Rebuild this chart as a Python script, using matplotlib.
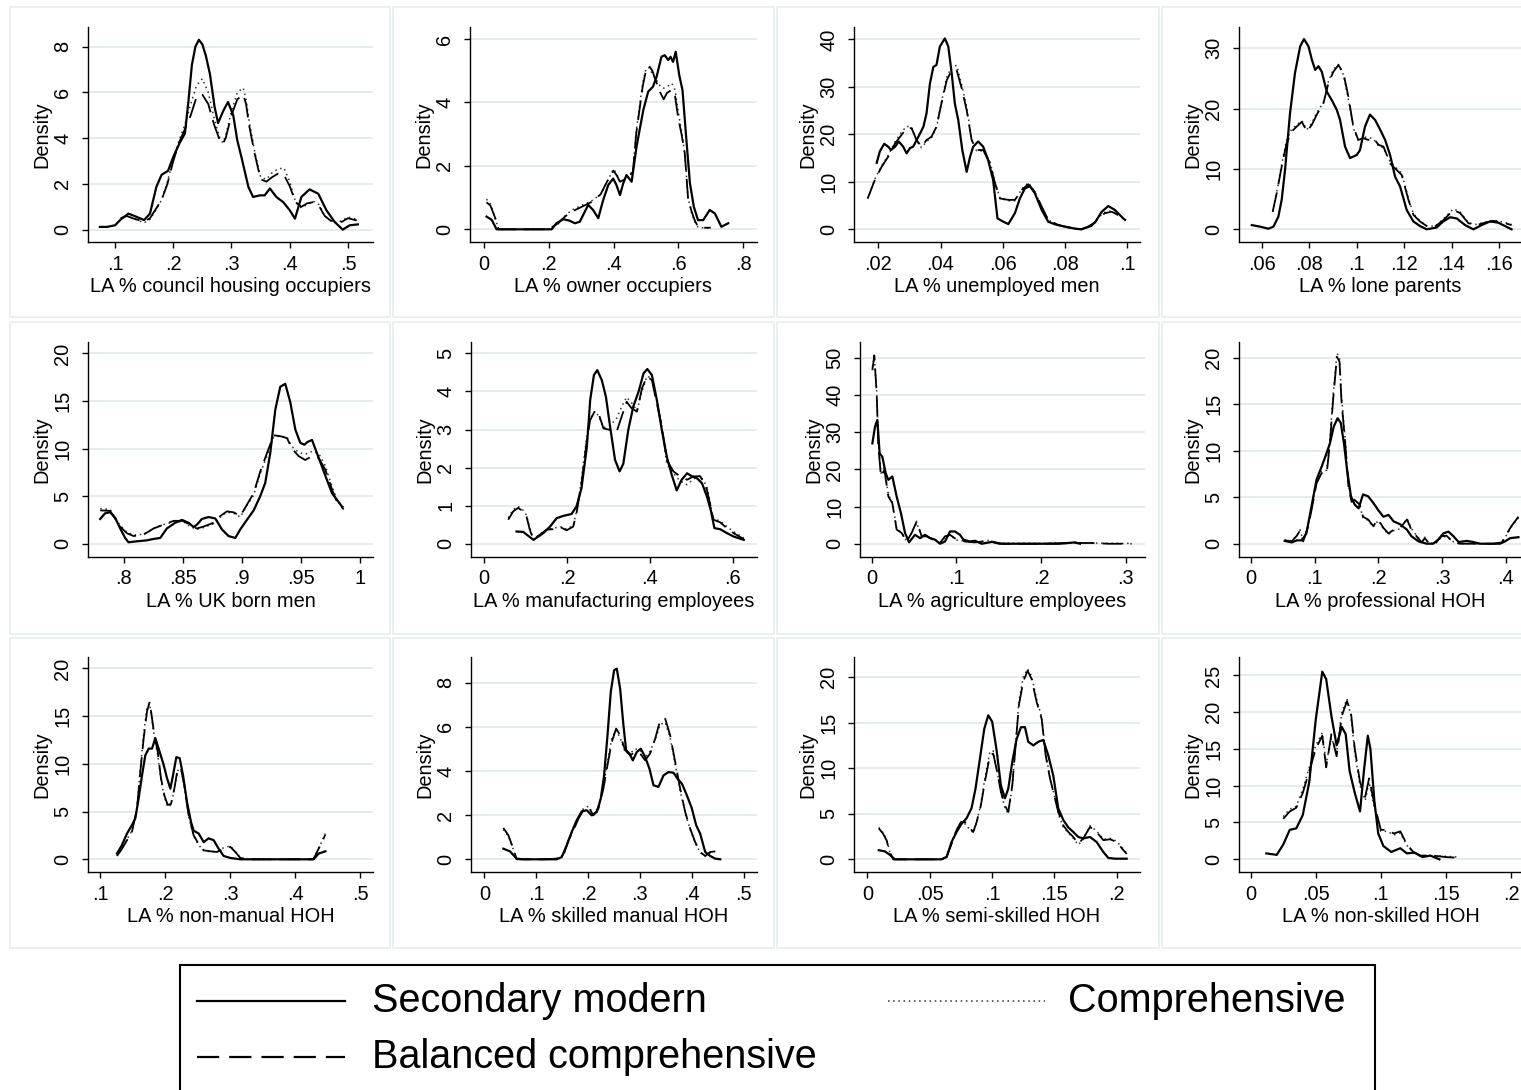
import matplotlib
matplotlib.use("Agg")
import matplotlib.pyplot as plt
from matplotlib.lines import Line2D
from matplotlib.patches import Rectangle

plt.rcParams['font.family'] = ['Liberation Sans', 'DejaVu Sans']

# ---------------- data ----------------
series_names = ["Secondary modern", "Balanced comprehensive", "Comprehensive"]

titles = ["LA % council housing occupiers", "LA % owner occupiers", "LA % unemployed men",
          "LA % lone parents", "LA % UK born men", "LA % manufacturing employees",
          "LA % agriculture employees", "LA % professional HOH", "LA % non-manual HOH",
          "LA % skilled manual HOH", "LA % semi-skilled HOH", "LA % non-skilled HOH"]

xticks = [[.1, .2, .3, .4, .5], [0, .2, .4, .6, .8], [.02, .04, .06, .08, .1],
          [.06, .08, .1, .12, .14, .16], [.8, .85, .9, .95, 1], [0, .2, .4, .6],
          [0, .1, .2, .3], [0, .1, .2, .3, .4], [.1, .2, .3, .4, .5],
          [0, .1, .2, .3, .4, .5], [0, .05, .1, .15, .2], [0, .05, .1, .15, .2]]
yticks = [[0, 2, 4, 6, 8], [0, 2, 4, 6], [0, 10, 20, 30, 40], [0, 10, 20, 30],
          [0, 5, 10, 15, 20], [0, 1, 2, 3, 4, 5], [0, 10, 20, 30, 40, 50],
          [0, 5, 10, 15, 20], [0, 5, 10, 15, 20], [0, 2, 4, 6, 8],
          [0, 5, 10, 15, 20], [0, 5, 10, 15, 20, 25]]

# Panel 1: council housing
p1_sec_x = [0.074, 0.086, 0.100, 0.110, 0.123, 0.135, 0.150, 0.160, 0.171, 0.180,
            0.191, 0.200, 0.211, 0.220, 0.226, 0.232, 0.238, 0.244, 0.250, 0.256,
            0.263, 0.271, 0.277, 0.286, 0.294, 0.303, 0.310, 0.317, 0.329, 0.337,
            0.349, 0.357, 0.366, 0.377, 0.389, 0.400, 0.409, 0.420, 0.434, 0.449,
            0.463, 0.477, 0.491, 0.503, 0.517]
p1_sec_y = [0.12, 0.12, 0.19, 0.45, 0.70, 0.58, 0.42, 0.70, 1.87, 2.40,
            2.57, 3.18, 3.79, 4.20, 5.60, 7.20, 8.00, 8.30, 8.10, 7.60,
            6.80, 5.36, 4.66, 5.20, 5.58, 5.00, 3.90, 3.18, 1.87, 1.43,
            1.50, 1.50, 1.80, 1.43, 1.20, 0.85, 0.48, 1.43, 1.76, 1.57,
            0.85, 0.34, 0.00, 0.19, 0.23]
p1_bal_x = [0.11, 0.12, 0.13, 0.15, 0.16, 0.17, 0.18, 0.19, 0.20, 0.21,
            0.22, 0.23, 0.24, 0.25, 0.26, 0.27, 0.28, 0.285, 0.29, 0.30,
            0.31, 0.32, 0.325, 0.33, 0.34, 0.35, 0.36, 0.37, 0.38, 0.39,
            0.40, 0.41, 0.42, 0.43, 0.44, 0.45, 0.46, 0.47, 0.48, 0.49,
            0.50, 0.515]
p1_bal_y = [0.5, 0.6, 0.5, 0.35, 0.5, 0.9, 1.3, 2.0, 3.0, 3.8,
            4.4, 5.0, 5.8, 5.9, 5.5, 4.6, 3.9, 3.75, 4.0, 5.0,
            5.7, 5.9, 5.5, 4.6, 3.3, 2.2, 2.1, 2.3, 2.45, 2.4,
            1.9, 1.2, 1.0, 1.15, 1.2, 1.05, 0.6, 0.4, 0.3, 0.35,
            0.5, 0.4]
p1_com_y = [0.5, 0.62, 0.5, 0.3, 0.45, 0.85, 1.3, 2.1, 3.1, 3.9,
            4.6, 5.5, 6.3, 6.6, 6.0, 4.9, 4.0, 3.8, 4.1, 5.2,
            6.0, 6.2, 5.7, 4.8, 3.4, 2.3, 2.2, 2.5, 2.65, 2.7,
            2.1, 1.2, 0.95, 1.1, 1.25, 1.1, 0.6, 0.4, 0.3, 0.4,
            0.55, 0.45]

# Panel 2: owner occupiers
p2_sec_x = [0.008, 0.024, 0.039, 0.100, 0.150, 0.209, 0.224, 0.245, 0.265, 0.281,
            0.296, 0.322, 0.337, 0.353, 0.368, 0.384, 0.399, 0.409, 0.420, 0.430,
            0.440, 0.456, 0.471, 0.492, 0.507, 0.522, 0.533, 0.548, 0.558, 0.569,
            0.576, 0.584, 0.592, 0.603, 0.613, 0.625, 0.636, 0.648, 0.661, 0.677,
            0.697, 0.713, 0.733, 0.754]
p2_sec_y = [0.40, 0.30, 0.00, 0.00, 0.00, 0.00, 0.19, 0.32, 0.27, 0.19,
            0.24, 0.77, 0.61, 0.35, 0.92, 1.40, 1.60, 1.40, 1.08, 1.45,
            1.71, 1.50, 2.60, 3.76, 4.34, 4.50, 4.81, 5.44, 5.49, 5.34,
            5.44, 5.28, 5.60, 4.86, 4.39, 2.82, 1.45, 0.71, 0.29, 0.29,
            0.61, 0.50, 0.08, 0.19]
p2_bal_x = [0.008, 0.020, 0.035, 0.045, 0.100, 0.200, 0.230, 0.250, 0.270, 0.300,
            0.330, 0.360, 0.380, 0.400, 0.410, 0.420, 0.440, 0.460, 0.470, 0.490,
            0.500, 0.510, 0.520, 0.530, 0.545, 0.555, 0.565, 0.580, 0.590, 0.600,
            0.610, 0.620, 0.630, 0.640, 0.650, 0.660, 0.670, 0.700]
p2_bal_y = [0.85, 0.75, 0.35, 0.00, 0.00, 0.00, 0.20, 0.40, 0.55, 0.70,
            0.85, 1.10, 1.50, 1.85, 1.70, 1.50, 1.60, 1.80, 3.00, 4.50,
            5.00, 5.15, 5.00, 4.70, 4.30, 4.10, 4.30, 4.40, 4.20, 3.50,
            3.00, 2.40, 1.00, 0.60, 0.30, 0.10, 0.05, 0.05]
p2_com_y = [0.95, 0.80, 0.35, 0.00, 0.00, 0.00, 0.18, 0.42, 0.60, 0.75,
            0.88, 1.10, 1.50, 1.90, 1.75, 1.50, 1.60, 1.85, 3.10, 4.60,
            5.05, 5.10, 4.90, 4.75, 4.50, 4.45, 4.50, 4.60, 4.40, 3.70,
            3.10, 2.40, 1.00, 0.55, 0.25, 0.08, 0.05, 0.05]

# Panel 3: unemployed men
p3_sec_x = [0.0195, 0.0205, 0.0219, 0.0232, 0.0241, 0.0254, 0.0266, 0.0280, 0.0291, 0.0302,
            0.0312, 0.0329, 0.0345, 0.0355, 0.0366, 0.0377, 0.0387, 0.0398, 0.0414, 0.0425,
            0.0436, 0.0446, 0.0457, 0.0470, 0.0484, 0.0495, 0.0505, 0.0521, 0.0537, 0.0553,
            0.0569, 0.0583, 0.0602, 0.0618, 0.0639, 0.0655, 0.0671, 0.0687, 0.0703, 0.0725,
            0.0746, 0.0768, 0.0800, 0.0832, 0.0853, 0.0875, 0.0896, 0.0918, 0.0939, 0.0960,
            0.0987, 0.0993]
p3_sec_y = [14.0, 16.4, 18.0, 17.4, 16.7, 17.4, 18.5, 17.4, 16.0, 17.1,
            17.4, 19.5, 21.6, 24.4, 30.7, 34.2, 34.6, 38.5, 40.2, 38.5,
            32.8, 26.5, 23.0, 16.7, 12.1, 15.3, 17.4, 18.5, 17.4, 14.6,
            10.4, 2.3, 1.6, 1.1, 3.4, 6.5, 8.6, 9.1, 7.6, 4.1,
            1.6, 1.05, 0.56, 0.14, 0.0, 0.56, 1.4, 3.7, 4.9, 4.1,
            2.3, 2.0]
p3_bal_x = [0.0166, 0.0189, 0.0211, 0.0232, 0.0254, 0.0275, 0.0291, 0.0307, 0.0323, 0.0339,
            0.0355, 0.0371, 0.0387, 0.0403, 0.0420, 0.0436, 0.0452, 0.0468, 0.0484, 0.0500,
            0.0516, 0.0537, 0.0559, 0.0575, 0.0591, 0.0618, 0.0639, 0.0661, 0.0682, 0.0703,
            0.0725, 0.0746, 0.0778, 0.0811, 0.0853, 0.0885, 0.0907, 0.0928, 0.0950, 0.0971]
p3_bal_y = [6.5, 10.4, 13.2, 15.3, 18.1, 19.9, 21.3, 21.3, 18.8, 17.4,
            18.8, 19.5, 21.6, 26.5, 31.4, 33.5, 33.5, 29.7, 25.1, 18.8,
            16.7, 16.7, 13.9, 9.7, 6.5, 6.2, 6.2, 8.3, 9.5, 7.9,
            4.8, 2.0, 0.9, 0.4, 0.0, 0.7, 2.3, 3.4, 3.7, 3.0]
p3_com_y = [6.5, 10.6, 13.4, 15.6, 18.5, 20.5, 21.7, 21.5, 18.6, 17.2,
            18.5, 19.3, 21.4, 26.8, 32.0, 34.3, 34.5, 30.5, 25.8, 19.0,
            16.5, 16.5, 14.2, 10.0, 6.6, 6.0, 6.0, 8.5, 9.8, 8.0,
            4.7, 2.0, 0.9, 0.4, 0.0, 0.8, 2.5, 3.6, 3.9, 3.2]

# Panel 4: lone parents
p4_sec_x = [0.0558, 0.0593, 0.0628, 0.0649, 0.0670, 0.0684, 0.0698, 0.0719, 0.0740, 0.0762,
            0.0778, 0.0797, 0.0811, 0.0825, 0.0839, 0.0853, 0.0874, 0.0895, 0.0916, 0.0930,
            0.0951, 0.0972, 0.1000, 0.1014, 0.1035, 0.1056, 0.1078, 0.1099, 0.1120, 0.1141,
            0.1162, 0.1183, 0.1211, 0.1239, 0.1267, 0.1295, 0.1337, 0.1365, 0.1394, 0.1422,
            0.1457, 0.1492, 0.1527, 0.1562, 0.1597, 0.1625, 0.1653]
p4_sec_y = [0.7, 0.44, 0.1, 0.44, 2.1, 4.9, 9.8, 19.2, 25.9, 30.3,
            31.5, 30.3, 28.1, 26.4, 27.0, 26.1, 22.8, 21.4, 19.8, 18.1,
            13.7, 11.8, 12.3, 13.1, 17.0, 19.0, 18.1, 16.5, 14.8, 12.3,
            8.7, 7.1, 3.2, 1.3, 0.55, 0.0, 0.3, 1.3, 2.0, 1.8,
            0.7, 0.0, 0.7, 1.3, 1.1, 0.55, 0.0]
p4_bal_x = [0.0646, 0.0663, 0.0684, 0.0705, 0.0726, 0.0747, 0.0769, 0.0790, 0.0811, 0.0832,
            0.0860, 0.0881, 0.0902, 0.0923, 0.0944, 0.0965, 0.0986, 0.1007, 0.1028, 0.1049,
            0.1070, 0.1092, 0.1113, 0.1141, 0.1169, 0.1190, 0.1218, 0.1239, 0.1267, 0.1295,
            0.1330, 0.1365, 0.1408, 0.1436, 0.1471, 0.1506, 0.1541, 0.1576, 0.1618, 0.1653]
p4_bal_y = [2.9, 6.0, 10.4, 14.3, 16.2, 17.0, 17.8, 16.2, 17.3, 19.0,
            20.9, 24.2, 26.1, 27.2, 25.9, 22.0, 17.0, 14.8, 15.1, 14.8,
            15.1, 14.0, 13.7, 10.9, 9.8, 9.0, 4.9, 2.4, 1.3, 0.55,
            0.44, 1.5, 3.2, 2.7, 1.0, 0.7, 1.1, 1.4, 1.1, 0.7]
p4_com_y = [2.9, 6.2, 10.8, 14.8, 16.6, 17.3, 18.0, 16.5, 17.6, 19.3,
            21.0, 24.5, 26.5, 27.3, 25.6, 21.5, 16.8, 14.6, 15.3, 15.2,
            15.0, 13.8, 13.5, 11.2, 10.1, 9.3, 5.2, 2.6, 1.4, 0.6,
            0.5, 1.7, 3.4, 2.9, 1.1, 0.8, 1.2, 1.5, 1.2, 0.8]

# Panel 5: UK born men
p5_sec_x = [0.7803, 0.7845, 0.7887, 0.7930, 0.7972, 0.8014, 0.8042, 0.8113, 0.8197, 0.8254,
            0.8310, 0.8366, 0.8437, 0.8493, 0.8549, 0.8592, 0.8620, 0.8662, 0.8718, 0.8775,
            0.8831, 0.8887, 0.8944, 0.8986, 0.9042, 0.9099, 0.9155, 0.9197, 0.9239, 0.9282,
            0.9324, 0.9366, 0.9408, 0.9451, 0.9493, 0.9527, 0.9555, 0.9592, 0.9634, 0.9676,
            0.9718, 0.9761, 0.9803, 0.9845]
p5_sec_y = [2.6, 3.2, 3.3, 2.7, 1.6, 0.6, 0.15, 0.25, 0.35, 0.5,
            0.6, 1.6, 2.2, 2.5, 2.2, 1.75, 2.0, 2.6, 2.8, 2.65,
            1.5, 0.8, 0.6, 1.5, 2.5, 3.5, 5.0, 6.4, 9.5, 14.1,
            16.5, 16.8, 14.9, 12.0, 10.6, 10.4, 10.7, 10.9, 9.5, 8.1,
            6.7, 5.3, 4.6, 3.9]
p5_bal_x = [0.7803, 0.7887, 0.7972, 0.8028, 0.8085, 0.8169, 0.8254, 0.8338, 0.8423, 0.8507,
            0.8563, 0.8620, 0.8676, 0.8761, 0.8817, 0.8873, 0.8930, 0.8986, 0.9042, 0.9099,
            0.9155, 0.9211, 0.9268, 0.9324, 0.9380, 0.9423, 0.9479, 0.9535, 0.9592, 0.9648,
            0.9704, 0.9761, 0.9803, 0.9859]
p5_bal_y = [3.5, 3.45, 1.8, 1.1, 0.8, 0.95, 1.6, 2.0, 2.4, 2.4,
            1.9, 1.6, 1.8, 2.2, 2.9, 3.4, 3.3, 2.9, 4.1, 5.3,
            7.6, 9.5, 11.4, 11.3, 11.1, 10.0, 9.2, 8.8, 9.2, 9.0,
            7.8, 5.7, 4.4, 3.6]
p5_com_y = [3.7, 3.6, 1.9, 1.2, 0.9, 1.0, 1.6, 2.0, 2.3, 2.3,
            1.8, 1.5, 1.7, 2.1, 2.8, 3.3, 3.2, 2.8, 4.0, 5.1,
            7.4, 9.2, 11.2, 11.3, 11.2, 10.2, 9.6, 9.4, 9.7, 9.5,
            8.2, 6.0, 4.6, 3.8]

# Panel 6: manufacturing employees
p6_sec_x = [0.078, 0.094, 0.119, 0.143, 0.159, 0.175, 0.191, 0.211, 0.223, 0.235,
            0.248, 0.256, 0.265, 0.273, 0.284, 0.294, 0.304, 0.316, 0.327, 0.336,
            0.348, 0.360, 0.373, 0.385, 0.394, 0.405, 0.417, 0.429, 0.441, 0.453,
            0.465, 0.477, 0.490, 0.502, 0.514, 0.526, 0.538, 0.548, 0.556, 0.570,
            0.586, 0.602, 0.627]
p6_sec_y = [0.32, 0.31, 0.10, 0.28, 0.45, 0.67, 0.73, 0.78, 0.98, 1.46,
            2.55, 3.78, 4.43, 4.56, 4.30, 3.86, 3.08, 2.20, 1.90, 2.10,
            2.99, 3.60, 4.00, 4.48, 4.59, 4.43, 3.78, 2.99, 2.29, 1.81,
            1.40, 1.68, 1.85, 1.77, 1.72, 1.59, 1.24, 0.85, 0.41, 0.38,
            0.28, 0.19, 0.10]
p6_bal_x = [0.058, 0.070, 0.082, 0.094, 0.102, 0.110, 0.119, 0.135, 0.151, 0.167,
            0.183, 0.199, 0.215, 0.223, 0.235, 0.248, 0.256, 0.268, 0.276, 0.288,
            0.304, 0.320, 0.332, 0.344, 0.356, 0.369, 0.381, 0.393, 0.405, 0.417,
            0.429, 0.441, 0.457, 0.473, 0.490, 0.506, 0.522, 0.538, 0.554, 0.570,
            0.586, 0.602, 0.627]
p6_bal_y = [0.63, 0.85, 0.94, 0.85, 0.72, 0.37, 0.10, 0.24, 0.37, 0.38,
            0.44, 0.35, 0.45, 0.80, 1.59, 2.73, 3.25, 3.50, 3.43, 3.03,
            2.99, 2.95, 3.34, 3.73, 3.56, 3.47, 4.08, 4.39, 4.30, 3.69,
            3.08, 2.20, 1.90, 1.77, 1.68, 1.77, 1.77, 1.42, 0.63, 0.56,
            0.41, 0.28, 0.12]
p6_com_y = [0.68, 0.90, 0.98, 0.88, 0.75, 0.40, 0.12, 0.25, 0.38, 0.40,
            0.45, 0.38, 0.48, 0.85, 1.70, 2.85, 3.30, 3.48, 3.35, 3.05,
            3.10, 3.30, 3.60, 3.85, 3.70, 3.50, 4.00, 4.40, 4.35, 3.75,
            3.10, 2.10, 1.85, 1.65, 1.55, 1.70, 1.80, 1.50, 0.65, 0.60,
            0.45, 0.32, 0.15]

# Panel 7: agriculture employees
p7_sec_x = [0.0008, 0.0039, 0.0067, 0.0094, 0.0126, 0.0165, 0.0197, 0.0244, 0.0295, 0.0346,
            0.0394, 0.0441, 0.0512, 0.0571, 0.0630, 0.0689, 0.0748, 0.0807, 0.0866, 0.0925,
            0.0984, 0.1043, 0.1083, 0.1161, 0.1220, 0.1300, 0.1420, 0.1540, 0.1810, 0.2200,
            0.2320, 0.2400, 0.2460]
p7_sec_y = [27.0, 31.5, 33.3, 24.3, 23.4, 19.0, 17.2, 18.1, 12.7, 8.2,
            2.9, 0.4, 2.4, 1.5, 2.4, 1.5, 1.1, 0.0, 0.6, 3.3,
            3.3, 2.4, 1.1, 0.6, 0.8, 0.0, 0.5, 0.0, 0.0, 0.0,
            0.2, 0.36, 0.0]
p7_bal_x = [0.0008, 0.0031, 0.0059, 0.0079, 0.0110, 0.0150, 0.0197, 0.0244, 0.0295, 0.0354,
            0.0413, 0.0472, 0.0531, 0.0591, 0.0650, 0.0728, 0.0807, 0.0866, 0.0925, 0.1004,
            0.1102, 0.1220, 0.1380, 0.1500, 0.2010, 0.2400, 0.2600, 0.2800, 0.2990, 0.3070]
p7_bal_y = [46.7, 50.7, 40.4, 26.1, 18.1, 19.9, 12.7, 10.9, 3.8, 2.9,
            0.6, 2.9, 6.0, 2.0, 2.0, 1.1, 0.2, 2.0, 2.4, 1.1,
            0.6, 0.36, 0.8, 0.0, 0.0, 0.2, 0.2, 0.0, 0.0, 0.0]
p7_com_y = [47.5, 50.0, 41.0, 27.0, 19.0, 20.5, 13.2, 11.2, 4.0, 3.0,
            0.7, 3.0, 5.6, 2.1, 2.0, 1.2, 0.3, 1.8, 2.3, 1.0,
            0.7, 0.4, 0.9, 0.1, 0.1, 0.3, 0.2, 0.1, 0.1, 0.1]

# Panel 8: professional HOH
p8_sec_x = [0.053, 0.064, 0.072, 0.080, 0.087, 0.095, 0.103, 0.111, 0.118, 0.124,
            0.130, 0.136, 0.141, 0.146, 0.151, 0.157, 0.163, 0.169, 0.176, 0.184,
            0.192, 0.200, 0.208, 0.216, 0.224, 0.234, 0.245, 0.252, 0.263, 0.276,
            0.286, 0.294, 0.302, 0.310, 0.318, 0.326, 0.339, 0.349, 0.360, 0.391,
            0.399, 0.407, 0.420]
p8_sec_y = [0.3, 0.14, 0.36, 0.36, 1.1, 4.0, 6.9, 8.3, 9.6, 10.8,
            12.6, 13.5, 13.0, 10.8, 7.9, 5.1, 4.2, 3.8, 5.3, 5.1,
            4.4, 3.6, 2.9, 3.1, 2.4, 2.1, 1.5, 0.8, 0.25, 0.0,
            0.0, 0.43, 1.1, 1.3, 0.8, 0.18, 0.3, 0.18, 0.0, 0.0,
            0.25, 0.6, 0.7]
p8_bal_x = [0.053, 0.064, 0.072, 0.077, 0.082, 0.090, 0.095, 0.103, 0.111, 0.119,
            0.124, 0.129, 0.135, 0.139, 0.142, 0.148, 0.153, 0.158, 0.163, 0.171,
            0.176, 0.184, 0.192, 0.200, 0.208, 0.216, 0.224, 0.234, 0.245, 0.252,
            0.260, 0.268, 0.273, 0.279, 0.289, 0.299, 0.307, 0.318, 0.328, 0.354,
            0.381, 0.394, 0.402, 0.409, 0.420]
p8_bal_y = [0.36, 0.25, 0.86, 1.4, 0.25, 1.9, 3.6, 6.5, 7.6, 7.6,
            10.8, 15.5, 20.1, 19.6, 15.5, 10.8, 6.2, 4.5, 4.7, 4.2,
            2.9, 2.6, 1.9, 2.6, 1.7, 1.1, 1.5, 1.7, 2.6, 1.5,
            0.8, 0.14, 0.6, 0.07, 0.0, 0.8, 0.86, 0.14, 0.0, 0.0,
            0.0, 0.14, 1.1, 1.9, 2.9]
p8_com_y = [0.4, 0.3, 0.9, 1.5, 0.3, 2.0, 3.8, 6.8, 7.8, 7.9,
            11.2, 16.0, 20.5, 20.0, 16.0, 11.2, 6.4, 4.6, 4.8, 4.0,
            2.8, 2.5, 1.8, 2.5, 1.6, 1.0, 1.4, 1.6, 2.7, 1.6,
            0.9, 0.2, 0.7, 0.1, 0.0, 0.7, 0.8, 0.2, 0.0, 0.0,
            0.0, 0.15, 1.0, 1.8, 2.8]

# Panel 9: non-manual HOH
p9_sec_x = [0.1256, 0.1333, 0.1410, 0.1487, 0.1538, 0.1590, 0.1641, 0.1692, 0.1744, 0.1795,
            0.1846, 0.1897, 0.1974, 0.2026, 0.2077, 0.2118, 0.2169, 0.2221, 0.2272, 0.2333,
            0.2395, 0.2436, 0.2513, 0.2590, 0.2667, 0.2744, 0.2821, 0.2897, 0.3000, 0.3154,
            0.3560, 0.4280, 0.4359, 0.4462]
p9_sec_y = [0.6, 1.5, 2.7, 3.6, 4.3, 6.4, 8.8, 10.9, 11.6, 11.6,
            12.7, 11.6, 9.9, 8.5, 7.4, 8.8, 10.7, 10.6, 8.8, 6.0,
            3.9, 3.0, 2.7, 1.8, 2.2, 2.0, 1.1, 0.35, 0.14, 0.0,
            0.0, 0.0, 0.6, 0.84]
p9_bal_x = [0.1256, 0.1333, 0.1410, 0.1487, 0.1564, 0.1615, 0.1667, 0.1718, 0.1759, 0.1795,
            0.1831, 0.1882, 0.1933, 0.1985, 0.2036, 0.2087, 0.2138, 0.2190, 0.2241, 0.2292,
            0.2359, 0.2436, 0.2513, 0.2590, 0.2692, 0.2795, 0.2897, 0.3000, 0.3077, 0.3154,
            0.3256, 0.4077, 0.4280, 0.4333, 0.4410, 0.4462]
p9_bal_y = [0.35, 1.1, 2.0, 2.9, 5.3, 9.2, 12.7, 15.5, 16.5, 14.8,
            13.0, 11.3, 8.5, 6.7, 5.7, 5.8, 7.4, 9.5, 9.5, 7.8,
            4.6, 2.5, 1.6, 0.94, 0.84, 0.77, 1.1, 1.3, 0.77, 0.14,
            0.0, 0.0, 0.0, 0.77, 1.8, 2.6]
p9_com_y = [0.4, 1.2, 2.1, 3.0, 5.5, 9.5, 13.2, 16.0, 16.3, 14.5,
            12.8, 11.0, 8.3, 6.5, 5.5, 5.7, 7.3, 9.3, 9.4, 7.6,
            4.4, 2.4, 1.5, 0.9, 0.8, 0.8, 1.2, 1.4, 0.8, 0.15,
            0.0, 0.0, 0.0, 0.8, 1.9, 2.7]

# Panel 10: skilled manual HOH
p10_sec_x = [0.0367, 0.0495, 0.0624, 0.0753, 0.1396, 0.1493, 0.1589, 0.1686, 0.1782, 0.1879,
             0.1976, 0.2072, 0.2169, 0.2246, 0.2310, 0.2375, 0.2439, 0.2503, 0.2555, 0.2619,
             0.2683, 0.2735, 0.2799, 0.2864, 0.2941, 0.3018, 0.3102, 0.3185, 0.3263, 0.3359,
             0.3456, 0.3552, 0.3649, 0.3726, 0.3810, 0.3906, 0.4003, 0.4086, 0.4163, 0.4260,
             0.4356, 0.4453, 0.4550]
p10_sec_y = [0.48, 0.36, 0.03, 0.0, 0.0, 0.1, 0.63, 1.24, 1.77, 2.17,
             2.22, 1.99, 2.14, 2.75, 3.8, 5.6, 7.58, 8.56, 8.63, 7.73,
             6.07, 4.94, 4.79, 4.48, 4.86, 5.01, 4.63, 4.1, 3.35, 3.28,
             3.8, 3.95, 3.92, 3.65, 3.43, 2.9, 2.3, 1.54, 1.16, 0.33,
             0.15, 0.03, 0.0]
p10_bal_x = [0.0367, 0.0463, 0.0560, 0.0624, 0.1139, 0.1396, 0.1525, 0.1622, 0.1718, 0.1815,
             0.1911, 0.2008, 0.2104, 0.2201, 0.2297, 0.2375, 0.2458, 0.2542, 0.2619, 0.2716,
             0.2812, 0.2909, 0.3005, 0.3102, 0.3198, 0.3295, 0.3391, 0.3488, 0.3584, 0.3681,
             0.3777, 0.3874, 0.3970, 0.4067, 0.4163, 0.4260, 0.4356, 0.4453]
p10_bal_y = [1.42, 1.09, 0.48, 0.0, 0.0, 0.03, 0.18, 0.86, 1.31, 1.84,
             2.22, 2.37, 1.99, 2.3, 3.2, 4.26, 5.31, 5.92, 5.62, 4.94,
             4.71, 4.86, 4.79, 4.48, 4.79, 5.46, 6.29, 6.37, 5.62, 4.41,
             3.2, 2.14, 1.39, 0.78, 0.33, 0.15, 0.33, 0.36]
p10_com_y = [1.35, 1.05, 0.45, 0.0, 0.0, 0.03, 0.2, 0.9, 1.35, 1.9,
             2.3, 2.4, 2.05, 2.35, 3.3, 4.4, 5.5, 5.85, 5.5, 4.85,
             4.8, 5.0, 4.95, 4.6, 4.9, 5.4, 6.1, 6.2, 5.5, 4.3,
             3.1, 2.1, 1.35, 0.75, 0.3, 0.15, 0.3, 0.35]

# Panel 11: semi-skilled HOH
p11_sec_x = [0.0091, 0.0139, 0.0179, 0.0220, 0.0594, 0.0635, 0.0675, 0.0715, 0.0755, 0.0795,
             0.0835, 0.0867, 0.0902, 0.0937, 0.0969, 0.1001, 0.1036, 0.1071, 0.1103, 0.1130,
             0.1162, 0.1197, 0.1232, 0.1264, 0.1290, 0.1331, 0.1371, 0.1411, 0.1451, 0.1491,
             0.1531, 0.1572, 0.1612, 0.1652, 0.1692, 0.1732, 0.1786, 0.1839, 0.1893, 0.1933,
             0.1987, 0.2080]
p11_sec_y = [1.0, 0.88, 0.5, 0.0, 0.0, 0.26, 1.9, 3.0, 3.9, 4.5,
             5.6, 7.75, 11.0, 14.3, 15.8, 15.1, 12.0, 8.1, 6.7, 7.75,
             10.7, 13.2, 14.5, 14.5, 12.9, 12.5, 12.9, 13.1, 11.4, 9.2,
             5.6, 4.3, 3.5, 3.0, 2.45, 2.3, 2.45, 1.9, 0.8, 0.15,
             0.07, 0.07]
p11_bal_x = [0.0091, 0.0126, 0.0153, 0.0179, 0.0206, 0.0594, 0.0635, 0.0675, 0.0715, 0.0750,
             0.0782, 0.0814, 0.0849, 0.0876, 0.0910, 0.0942, 0.0983, 0.1009, 0.1036, 0.1071,
             0.1103, 0.1130, 0.1162, 0.1189, 0.1215, 0.1250, 0.1285, 0.1317, 0.1357, 0.1398,
             0.1430, 0.1465, 0.1499, 0.1531, 0.1572, 0.1612, 0.1652, 0.1692, 0.1732, 0.1786,
             0.1839, 0.1893, 0.1947, 0.2000, 0.2054, 0.2080]
p11_bal_y = [3.4, 2.8, 2.1, 0.8, 0.0, 0.0, 0.26, 1.7, 3.2, 4.1,
             4.1, 3.55, 3.0, 4.1, 5.9, 8.5, 11.4, 11.6, 9.9, 7.4,
             5.9, 5.2, 8.1, 12.5, 16.9, 19.5, 20.7, 19.8, 17.3, 15.4,
             11.4, 8.85, 7.0, 5.2, 3.7, 3.0, 2.45, 1.7, 2.3, 3.55,
             3.0, 2.1, 2.2, 1.9, 1.0, 0.6]
p11_com_y = [3.5, 2.9, 2.2, 0.85, 0.0, 0.0, 0.3, 1.8, 3.3, 4.0,
             3.9, 3.4, 2.9, 4.0, 6.1, 8.9, 11.8, 11.9, 10.0, 7.3,
             5.7, 5.0, 8.0, 12.8, 17.3, 20.0, 20.9, 20.1, 17.6, 15.6,
             11.6, 9.0, 7.0, 5.0, 3.5, 2.9, 2.3, 1.6, 2.2, 3.7,
             3.1, 2.2, 2.3, 2.0, 1.1, 0.65]

# Panel 12: non-skilled HOH
p12_sec_x = [0.012, 0.020, 0.025, 0.030, 0.035, 0.040, 0.045, 0.050, 0.055, 0.058,
             0.062, 0.066, 0.070, 0.073, 0.076, 0.080, 0.084, 0.087, 0.090, 0.092,
             0.095, 0.098, 0.102, 0.108, 0.115, 0.120, 0.126, 0.132, 0.138, 0.145]
p12_sec_y = [0.8, 0.6, 2.0, 4.0, 4.2, 6.0, 10.5, 19.0, 25.5, 24.5,
             19.5, 15.5, 18.0, 17.0, 12.0, 9.0, 6.5, 12.0, 16.8, 15.0,
             8.0, 3.5, 1.8, 1.0, 1.5, 0.8, 0.9, 0.3, 0.5, 0.0]
p12_bal_x = [0.025, 0.030, 0.035, 0.040, 0.045, 0.050, 0.055, 0.058, 0.062, 0.066,
             0.070, 0.074, 0.077, 0.080, 0.084, 0.088, 0.091, 0.095, 0.100, 0.105,
             0.110, 0.115, 0.120, 0.125, 0.130, 0.140, 0.150, 0.160]
p12_bal_y = [5.5, 6.5, 7.0, 9.0, 12.0, 15.0, 16.8, 12.5, 17.0, 14.0,
             19.5, 21.5, 20.0, 15.0, 10.5, 8.5, 11.0, 7.5, 4.0, 4.0,
             3.5, 3.8, 2.0, 1.0, 0.5, 0.5, 0.3, 0.2]
p12_com_y = [5.8, 6.8, 7.2, 9.5, 12.5, 15.5, 17.2, 13.0, 16.5, 14.5,
             20.0, 21.8, 19.5, 14.5, 10.0, 8.0, 10.5, 7.0, 3.8, 3.8,
             3.3, 3.6, 1.9, 0.9, 0.5, 0.5, 0.4, 0.3]

curves = [
    (p1_sec_x, p1_sec_y, p1_bal_x, p1_bal_y, p1_com_y),
    (p2_sec_x, p2_sec_y, p2_bal_x, p2_bal_y, p2_com_y),
    (p3_sec_x, p3_sec_y, p3_bal_x, p3_bal_y, p3_com_y),
    (p4_sec_x, p4_sec_y, p4_bal_x, p4_bal_y, p4_com_y),
    (p5_sec_x, p5_sec_y, p5_bal_x, p5_bal_y, p5_com_y),
    (p6_sec_x, p6_sec_y, p6_bal_x, p6_bal_y, p6_com_y),
    (p7_sec_x, p7_sec_y, p7_bal_x, p7_bal_y, p7_com_y),
    (p8_sec_x, p8_sec_y, p8_bal_x, p8_bal_y, p8_com_y),
    (p9_sec_x, p9_sec_y, p9_bal_x, p9_bal_y, p9_com_y),
    (p10_sec_x, p10_sec_y, p10_bal_x, p10_bal_y, p10_com_y),
    (p11_sec_x, p11_sec_y, p11_bal_x, p11_bal_y, p11_com_y),
    (p12_sec_x, p12_sec_y, p12_bal_x, p12_bal_y, p12_com_y),
]

# ---------------- layout (pixels) ----------------
W, H = 1521, 1090
axes_px = [  # left, right, top, bottom
    (88, 373, 27, 242), (470, 757, 27, 242), (854, 1140, 27, 242), (1239, 1522, 27, 242),
    (88, 373, 342, 557), (471, 757, 342, 557), (860, 1145, 342, 557), (1239, 1522, 342, 557),
    (88, 373, 657, 872), (471, 757, 657, 872), (854, 1140, 657, 872), (1239, 1522, 657, 872),
]
xlims = [(0.0536, 0.543), (-0.043, 0.843), (0.0122, 0.1041), (0.0504, 0.1697),
         (0.770, 1.0107), (-0.032, 0.659), (-0.0138, 0.3228), (-0.0188, 0.4256),
         (0.081, 0.5195), (-0.0257, 0.5259), (-0.0108, 0.2187), (-0.009, 0.2085)]
ylims = [(-0.54, 8.86), (-0.40, 6.38), (-2.67, 42.6), (-2.1, 33.5),
         (-1.40, 21.2), (-0.35, 5.30), (-3.57, 54.3), (-1.43, 21.7),
         (-1.33, 21.2), (-0.575, 9.16), (-1.39, 22.2), (-1.73, 27.5)]

frame_cols = [(10, 390), (393, 774), (777, 1159), (1162, 1530)]
frame_rows = [(7, 317), (322, 634), (638, 948)]

GRID = '#e2ebee'
FRAME = '#e6eef0'
FS = 14.4

sec_style = dict(color='black', lw=1.6, linestyle='-')
bal_style = dict(color='black', lw=1.3, linestyle=(0, (11, 4.5)))
com_style = dict(color='#333333', lw=1.1, linestyle=(0, (1, 2.4)))

fig = plt.figure(figsize=(W / 100, H / 100), dpi=100)
fig.patch.set_facecolor('white')

# panel frames
for (r0, r1) in frame_rows:
    for (c0, c1) in frame_cols:
        fig.add_artist(Rectangle((c0 / W, 1 - r1 / H), (c1 - c0) / W, (r1 - r0) / H,
                                 transform=fig.transFigure, fill=False,
                                 edgecolor=FRAME, lw=1.2))


def fmt(v):
    s = f"{v:g}"
    if s.startswith("0."):
        s = s[1:]
    return s


for i, (l, r, t, b) in enumerate(axes_px):
    ax = fig.add_axes([l / W, 1 - b / H, (r - l) / W, (b - t) / H])
    sx, sy, bx, by, cy = curves[i]
    ax.plot(bx, cy, **com_style)
    ax.plot(bx, by, **bal_style)
    ax.plot(sx, sy, **sec_style)
    ax.set_xlim(*xlims[i])
    ax.set_ylim(*ylims[i])
    ax.set_xticks(xticks[i])
    ax.set_xticklabels([fmt(v) for v in xticks[i]])
    ax.set_yticks(yticks[i])
    ax.set_yticklabels([fmt(v) for v in yticks[i]])
    for v in yticks[i]:
        ax.axhline(v, color=GRID, lw=1.3, zorder=0)
    for s in ['top', 'right']:
        ax.spines[s].set_visible(False)
    for s in ['left', 'bottom']:
        ax.spines[s].set_linewidth(1.0)
        ax.spines[s].set_color('black')
    ax.tick_params(axis='both', direction='out', length=4.5, width=1.0,
                   labelsize=FS, colors='black')
    ax.tick_params(axis='x', pad=4.5)
    ax.tick_params(axis='y', pad=7, labelrotation=90)
    for lab in ax.get_yticklabels():
        lab.set_va('center')
    ax.set_xlabel(titles[i], fontsize=FS, labelpad=2.5)
    ax.set_ylabel('Density', fontsize=FS, labelpad=1.5)
    ax.set_facecolor('white')


def fx(x):
    return x / W


def fy(y):
    return 1 - y / H


# legend box
fig.add_artist(Rectangle((fx(180), fy(1120)), (1375 - 180) / W, (1120 - 965) / H,
                         transform=fig.transFigure, fill=True, facecolor='white',
                         edgecolor='black', lw=1.5))
legend_rows = [(197, 345, 1001, 372, series_names[0], sec_style),
               (197, 345, 1057, 372, series_names[1], bal_style),
               (888, 1045, 1001, 1068, series_names[2], com_style)]
for x0, x1, yy, tx, name, st in legend_rows:
    st2 = dict(st)
    if st is bal_style:
        st2['lw'] = 1.6
        st2['linestyle'] = (0, (10, 4.5))
    fig.add_artist(Line2D([fx(x0), fx(x1)], [fy(yy), fy(yy)], transform=fig.transFigure,
                          **st2))
    fig.text(fx(tx), fy(yy), name, fontsize=28.5, va='center', ha='left')

fig.savefig('out.png', dpi=100, facecolor='white')
